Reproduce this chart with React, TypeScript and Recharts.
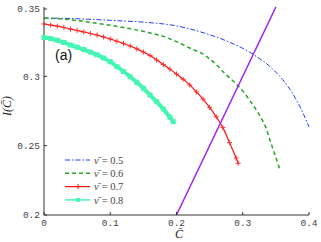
import { LineChart, Line, XAxis, YAxis, Customized } from 'recharts';

// tick values
const xTicks = [0, 0.1, 0.2, 0.3, 0.4];
const yTicks = [0.2, 0.25, 0.3, 0.35];

// nu = 0.5 (blue, dash-dot)
const c05 = [0, 0.02, 0.04, 0.06, 0.08, 0.1, 0.12, 0.14, 0.16, 0.18, 0.2, 0.22, 0.24, 0.26, 0.28, 0.3, 0.32, 0.34, 0.35, 0.36, 0.37, 0.38, 0.39, 0.4];
const i05 = [0.342, 0.3419, 0.3417, 0.3413, 0.3409, 0.3404, 0.3399, 0.3394, 0.3387, 0.3378, 0.3364, 0.3342, 0.3315, 0.3284, 0.3246, 0.3202, 0.3145, 0.3075, 0.303, 0.2978, 0.2915, 0.2838, 0.2745, 0.2635];

// nu = 0.6 (green, dashed)
const c06 = [0, 0.02, 0.04, 0.06, 0.08, 0.1, 0.12, 0.14, 0.16, 0.18, 0.2, 0.22, 0.24, 0.25, 0.26, 0.27, 0.28, 0.29, 0.3, 0.31, 0.32, 0.33, 0.335, 0.34, 0.345, 0.35, 0.356];
const i06 = [0.342, 0.3416, 0.3408, 0.3396, 0.3382, 0.3368, 0.3352, 0.3335, 0.3313, 0.3288, 0.325, 0.3204, 0.316, 0.3125, 0.3085, 0.3035, 0.299, 0.2945, 0.2895, 0.283, 0.276, 0.268, 0.263, 0.2555, 0.2485, 0.2415, 0.233];

// nu = 0.7 (red, plus markers)
const c07 = [0, 0.01, 0.02, 0.03, 0.04, 0.05, 0.06, 0.07, 0.08, 0.09, 0.1, 0.11, 0.12, 0.13, 0.14, 0.15, 0.16, 0.17, 0.18, 0.19, 0.2, 0.21, 0.22, 0.23, 0.24, 0.25, 0.26, 0.27, 0.28, 0.29, 0.293];
const i07 = [0.3378, 0.337, 0.3362, 0.3352, 0.3341, 0.3331, 0.332, 0.3309, 0.3298, 0.3284, 0.3269, 0.3253, 0.3237, 0.3219, 0.3198, 0.3175, 0.315, 0.3118, 0.3085, 0.3052, 0.3017, 0.2979, 0.2938, 0.2888, 0.2836, 0.2776, 0.2708, 0.263, 0.2522, 0.2411, 0.2373];

// nu = 0.8 (mint, square markers)
const c08 = [0, 0.01, 0.02, 0.03, 0.04, 0.05, 0.06, 0.07, 0.08, 0.09, 0.1, 0.11, 0.12, 0.13, 0.14, 0.15, 0.16, 0.17, 0.18, 0.19, 0.195];
const i08 = [0.328, 0.3272, 0.326, 0.3244, 0.3226, 0.321, 0.3193, 0.3175, 0.3155, 0.3132, 0.3106, 0.307, 0.3035, 0.2997, 0.2957, 0.2914, 0.2865, 0.2817, 0.2765, 0.2705, 0.2673];

// I = C line
const cDiag = [0.2, 0.35];
const iDiag = [0.2, 0.35];

const nuLabels = ['0.5', '0.6', '0.7', '0.8'];

const toRows = (c: number[], v: number[]) => c.map((x, k) => ({ c: x, v: v[k] }));

const BLUE = '#1f3dff';
const GREEN = '#2aa52a';
const RED = '#ff1010';
const MINT = '#45f5b2';
const PURPLE = '#a020f0';
const AXIS = '#333';
const mono = "'Liberation Mono', monospace";
const serif = "'Liberation Serif', serif";

const BottomTick = (p: any) => (
  <g>
    <line x1={p.x} x2={p.x} y1={p.y - 3} y2={p.y - 6} stroke={AXIS} />
    <text x={p.x} y={p.y + 8} textAnchor="middle" fontFamily={mono} fontSize={9.5} fill="#444">
      {String(p.payload.value)}
    </text>
  </g>
);

const LeftTick = (p: any) => (
  <g>
    <line x1={p.x + 4} x2={p.x + 7} y1={p.y} y2={p.y} stroke={AXIS} />
    <text x={p.x} y={p.y} dy="0.35em" textAnchor="end" fontFamily={mono} fontSize={9.5} fill="#444">
      {String(p.payload.value)}
    </text>
  </g>
);

const TopTick = (p: any) => <line x1={p.x} x2={p.x} y1={p.y} y2={p.y + 3} stroke="#888" />;
const RightTick = (p: any) => <line x1={p.x} x2={p.x - 3} y1={p.y} y2={p.y} stroke="#888" />;

const PlusDot = (p: any) =>
  p.cx == null ? <g key={p.index} /> : (
    <path key={p.index} d={`M${p.cx - 2.5},${p.cy}h5M${p.cx},${p.cy - 2.5}v5`} stroke="#ff3030" strokeWidth={1} fill="none" />
  );

const SquareDot = (p: any) =>
  p.cx == null ? <g key={p.index} /> : (
    <rect key={p.index} x={p.cx - 2.5} y={p.cy - 2.5} width={5} height={5} fill={MINT} />
  );

const legendStyles = [
  { stroke: BLUE, dash: '5 2 1.5 2', w: 1, mark: '' },
  { stroke: GREEN, dash: '4 3', w: 1.5, mark: '' },
  { stroke: RED, dash: undefined, w: 1.2, mark: 'plus' },
  { stroke: MINT, dash: undefined, w: 1.5, mark: 'square' },
];

const Extras = () => (
  <g>
    <text x={55} y={60} fontFamily="'Liberation Sans', sans-serif" fontSize={14} fill="#111">(a)</text>
    <text x={179} y={238} textAnchor="middle" fontFamily={serif} fontStyle="italic" fontSize={12} fill="#222">C&#772;</text>
    <text x={11} y={106} transform="rotate(-90, 11, 106)" textAnchor="middle" fontFamily={serif} fontStyle="italic" fontSize={12} fill="#222">
      I(C&#772;)
    </text>
    {legendStyles.map((s, k) => {
      const y = 160 + k * 13.3;
      return (
        <g key={k}>
          <line x1={65} x2={90} y1={y} y2={y} stroke={s.stroke} strokeWidth={s.w} strokeDasharray={s.dash} />
          {s.mark === 'plus' && <path d={`M75.5,${y}h5M78,${y - 2.5}v5`} stroke={RED} strokeWidth={1} />}
          {s.mark === 'square' && <rect x={76} y={y - 2} width={4} height={4} fill={MINT} />}
          <text x={94} y={y} dy="0.35em" fontFamily={serif} fontSize={10.5} fill="#444">
            <tspan fontStyle="italic">&#957;&#772;</tspan>
            <tspan dx={3}>{'= ' + nuLabels[k]}</tspan>
          </text>
        </g>
      );
    })}
  </g>
);

export default function App() {
  return (
    <div style={{ position: 'absolute', left: 0, top: 0 }}>
      <LineChart width={321} height={242} margin={{ top: 7, right: 12, bottom: 0, left: 4 }}>
        <XAxis dataKey="c" type="number" domain={[0, 0.4]} ticks={xTicks} height={27} tickLine={false} tickSize={0} tickMargin={3} tick={<BottomTick />} axisLine={{ stroke: AXIS }} />
        <YAxis dataKey="v" type="number" domain={[0.2, 0.35]} ticks={yTicks} width={40} tickLine={false} tickSize={0} tickMargin={4} tick={<LeftTick />} axisLine={{ stroke: AXIS }} />
        <XAxis xAxisId="top" orientation="top" dataKey="c" type="number" domain={[0, 0.4]} ticks={xTicks} height={0} tickLine={false} tickSize={0} tickMargin={0} tick={<TopTick />} axisLine={{ stroke: '#999' }} />
        <YAxis yAxisId="right" orientation="right" dataKey="v" type="number" domain={[0.2, 0.35]} ticks={yTicks} width={0} tickLine={false} tickSize={0} tickMargin={0} tick={<RightTick />} axisLine={{ stroke: '#999', strokeWidth: 2 }} />
        <Line data={toRows(c05, i05)} dataKey="v" type="monotone" stroke={BLUE} strokeWidth={1} strokeDasharray="5 2 1.5 2" dot={false} isAnimationActive={false} />
        <Line data={toRows(c06, i06)} dataKey="v" type="monotone" stroke={GREEN} strokeWidth={1.5} strokeDasharray="4 3" dot={false} isAnimationActive={false} />
        <Line data={toRows(c07, i07)} dataKey="v" type="monotone" stroke={RED} strokeWidth={1.2} dot={PlusDot} isAnimationActive={false} />
        <Line data={toRows(c08, i08)} dataKey="v" type="monotone" stroke={MINT} strokeWidth={4} dot={SquareDot} isAnimationActive={false} />
        <Line data={toRows(cDiag, iDiag)} xAxisId="top" yAxisId="right" dataKey="v" type="linear" stroke={PURPLE} strokeWidth={1.5} dot={false} isAnimationActive={false} />
        <Customized component={Extras} />
      </LineChart>
    </div>
  );
}
